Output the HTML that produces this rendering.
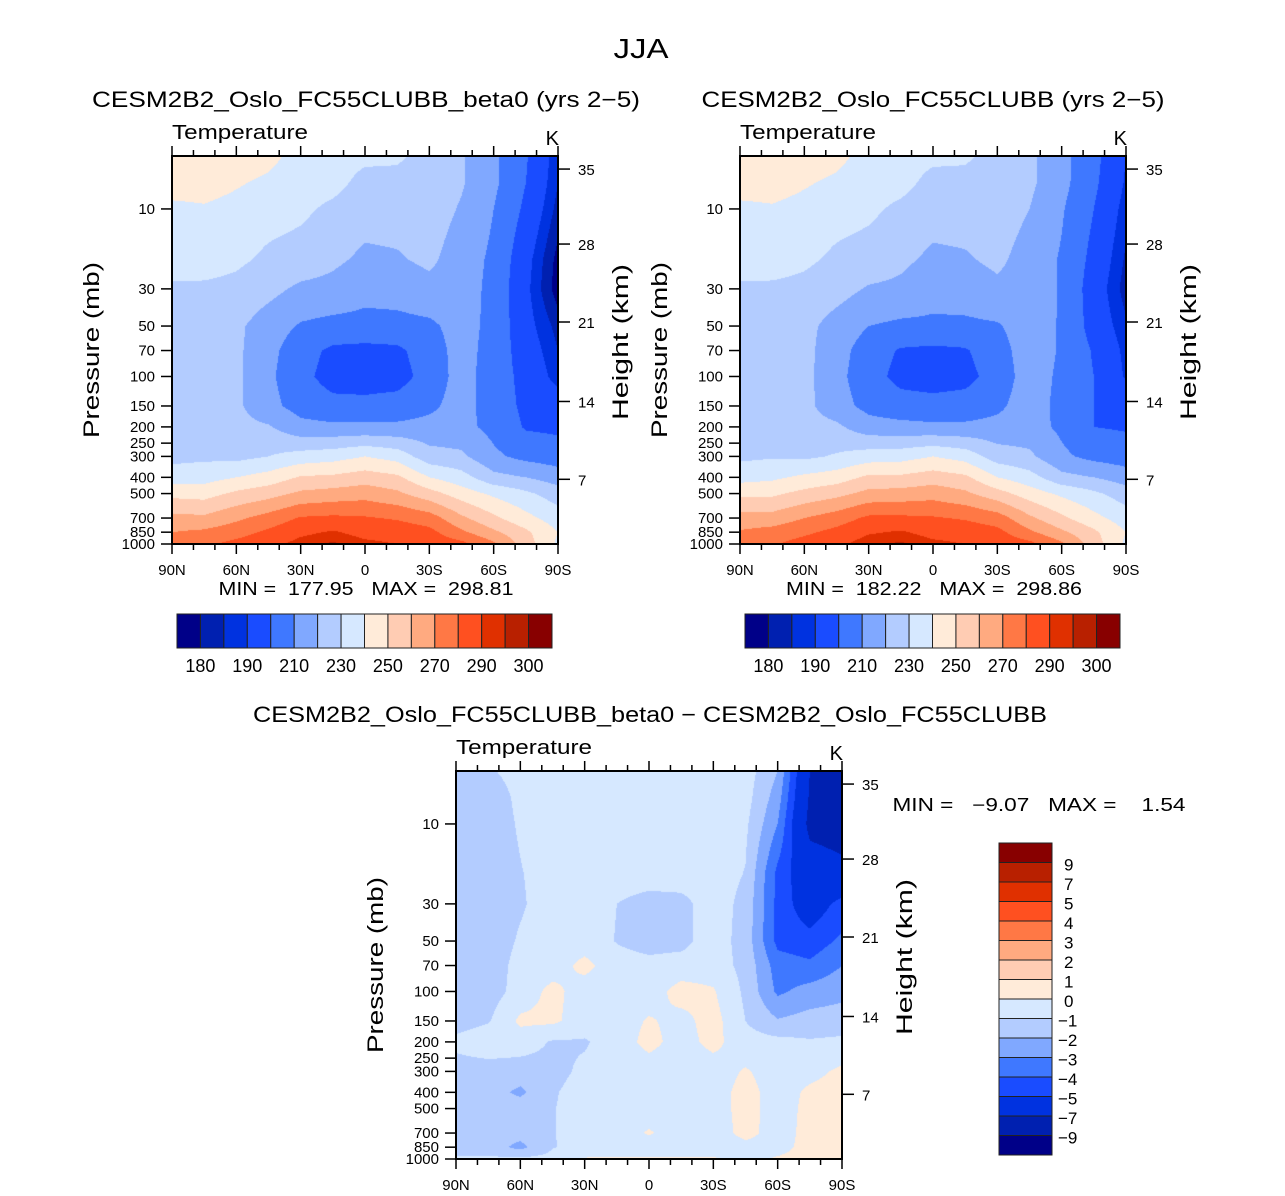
<!DOCTYPE html>
<html><head><meta charset="utf-8">
<style>
html,body{margin:0;padding:0;background:#fff;}
#wrap{position:relative;width:1285px;height:1196px;overflow:hidden;font-family:"Liberation Sans",sans-serif;}
canvas{position:absolute;}
svg{position:absolute;left:0;top:0;}
text{font-family:"Liberation Sans",sans-serif;fill:#000;white-space:pre;}
</style></head>
<body>
<div id="wrap">
<canvas id="c1" width="386" height="388" style="left:172px;top:156px"></canvas>
<canvas id="c2" width="386" height="388" style="left:740px;top:156px"></canvas>
<canvas id="c3" width="386" height="388" style="left:456px;top:771px"></canvas>
<svg id="ov" width="1285" height="1196"></svg>
</div>
<script>
// ---- data ----
const lats = ["90N","75N","60N","45N","30N","15N","0","15S","30S","45S","60S","75S","90S"];
const pressures = [4.83,7,10,20,30,50,70,100,150,200,300,400,500,700,850,1000];
const tempBeta0 = [
 [248,248,246,243,236,234,232,231,228,221,212,201,186],
 [244,244,241,238,234,233,227,228,226,221,212,200,185],
 [238,239,237,234,232,228,224,224,225,219,210,198,183],
 [233,235,232,228,226,222,218,219,222,215,208,193,178],
 [229,228,227,223,218,217,213,214,217,215,207,192,177],
 [226,225,222,215,209,207,207,207,208,214,207,193,183],
 [226,225,222,213,204,198,197,198,205,214,206,195,185],
 [226,225,222,212,203,196,195,196,204,214,205,197,187],
 [226,225,222,213,206,203,203,204,208,214,205,198,195],
 [226,225,223,221,213,212,212,212,213,213,207,199,198],
 [227,228,227,230,234,236,240,236,224,222,212,207,205],
 [235,236,240,244,251,252,255,252,240,234,223,220,215],
 [247,246,252,256,262,264,266,262,254,245,238,232,225],
 [263,262,268,274,281,282,281,279,275,262,252,243,235],
 [270,272,276,282,288,291,287,286,283,272,262,252,240],
 [275,278,283,287,293,296,292,290,287,283,272,255,238]
];
const tempControl = [
 [248,248,246,243,236,234,232,231,228,222,213,203,190],
 [244,244,241,238,234,233,227,228,226,222,213,202,189],
 [238,239,237,234,232,228,224,224,225,220,211,200,187],
 [233,235,232,228,226,222,218,219,222,216,209,197,184],
 [229,228,227,224,219,218,214,215,218,216,209,195,182.5],
 [226,226,223,216,210,208,208,208,209,215,209,196,186],
 [227,226,223,214,205,199,198,199,206,215,209,199,188],
 [227,226,223,213,204,197,196,197,204,215,208,200,189],
 [227,226,223,214,207,204,203,204,208,215,207,200,196.5],
 [227,226,224,222,214,213,212,212,213,214,208,200,199],
 [228,229,228,231,235,236,240,236,225,222,212,207,205],
 [236,238,242,245,252,252,255,252,240,234,223,220,215],
 [248,248,253,257,263,264,266,262,254,245,238,232,225],
 [264,264,270,275,282,282,281,279,275,262,252,243,235],
 [271,274,278,283,289,291,287,286,283,272,262,252,240],
 [276,279,284,288,294,296,292,290,287,283,272,255,238]
];
const tempDiff = [
 [-1.5,-1.1,-0.7,-0.5,-0.5,-0.5,-0.5,-0.5,-0.5,-0.5,-2.0,-7.0,-8.0],
 [-1.5,-1.5,-0.8,-0.5,-0.5,-0.5,-0.5,-0.5,-0.5,-0.6,-2.5,-7.2,-8.2],
 [-1.5,-1.5,-0.9,-0.5,-0.5,-0.5,-0.5,-0.5,-0.5,-0.8,-3.0,-7.5,-7.8],
 [-1.5,-1.5,-1.05,-0.6,-0.5,-0.5,-0.5,-0.5,-0.5,-1.05,-4.3,-6.0,-6.5],
 [-1.5,-1.5,-1.1,-0.6,-0.5,-1.0,-1.4,-1.3,-0.5,-1.3,-4.3,-5.8,-4.6],
 [-1.5,-1.5,-0.9,-0.6,-0.5,-1.05,-1.4,-1.3,-0.5,-1.4,-4.3,-4.6,-3.8],
 [-1.5,-1.5,-0.7,-0.5,0.3,-0.6,-0.7,-0.6,-0.5,-1.3,-3.5,-3.8,-3.0],
 [-1.5,-1.5,-0.6,0.3,-0.5,-0.5,-0.5,0.4,0.1,-1.2,-3.2,-2.6,-2.3],
 [-1.5,-1.1,0.2,0.2,-0.5,-0.5,0.1,-0.3,0.4,-1.0,-1.9,-1.6,-1.5],
 [-0.7,-0.3,-0.5,-1.1,-1.1,-0.5,0.3,-0.4,0.3,-0.6,-0.7,-0.9,-0.8],
 [-1.5,-1.5,-1.5,-1.3,-0.8,-0.5,-0.5,-0.5,-0.5,0.1,-0.5,-0.3,0.2],
 [-1.5,-1.6,-2.2,-1.1,-0.6,-0.5,-0.5,-0.5,-0.5,0.4,-0.5,0.2,0.4],
 [-1.5,-1.6,-1.5,-1.05,-0.6,-0.5,-0.5,-0.5,-0.5,0.4,-0.5,0.3,0.4],
 [-1.5,-1.5,-1.6,-1.05,-0.6,-0.5,0.1,-0.5,-0.5,0.3,-0.4,0.3,0.4],
 [-1.5,-1.5,-2.3,-1.05,-0.7,-0.5,-0.5,-0.5,-0.5,-0.3,-0.3,0.3,0.3],
 [-0.8,-0.8,-0.8,-0.7,0.1,0.1,0.1,0.1,0.1,-0.3,0.1,0.3,0.3]
];
const tempLevels = [180,185,190,200,210,220,230,240,250,260,270,280,290,295,300];
const tempTickLabels = ["180","190","210","230","250","270","290","300"];
const diffLevels = [-9,-7,-5,-4,-3,-2,-1,0,1,2,3,4,5,7,9];
const diffTickLabels = ["−9","−7","−5","−4","−3","−2","−1","0","1","2","3","4","5","7","9"];
const pressureTicks = [10,30,50,70,100,150,200,250,300,400,500,700,850,1000];
const heightTicks = [7,14,21,28,35];
const heightPressures = [411,141,47.3,16.2,5.78];
const latTickLabels = ["90N","60N","30N","0","30S","60S","90S"];
const colors = ["#000088","#0020B0","#0032E0","#1A4CFF","#3F78FF","#80A8FF","#B3CCFF","#D6E8FF","#FFEBD9","#FFCCB3","#FFAA80","#FF7845","#FF5020","#E03000","#B82000","#880000"];

// ---- scales ----
const W=386,H=388,PTOP=4.83;
function yOfP(p){ return H - (3-Math.log10(p))/(3-Math.log10(PTOP))*H; }

function hexRGB(h){return [parseInt(h.substr(1,2),16),parseInt(h.substr(3,2),16),parseInt(h.substr(5,2),16)];}
const rgb = colors.map(hexRGB);
function band(v,levels){ let k=0; while(k<levels.length && v>=levels[k]) k++; return k; }

function drawField(id,grid,levels){
  const cv=document.getElementById(id), ctx=cv.getContext('2d');
  const img=ctx.createImageData(W,H);
  const rowY=pressures.map(yOfP);
  const nc=lats.length;
  for(let py=0;py<H;py++){
    const y=py+0.5;
    let r=0; while(r<rowY.length-2 && y>rowY[r+1]) r++;
    let ty=(y-rowY[r])/(rowY[r+1]-rowY[r]); ty=Math.max(0,Math.min(1,ty));
    for(let px=0;px<W;px++){
      const fx=(px+0.5)/W*(nc-1);
      let c=Math.min(nc-2,Math.floor(fx)); const tx=fx-c;
      const v=(grid[r][c]*(1-tx)+grid[r][c+1]*tx)*(1-ty)+(grid[r+1][c]*(1-tx)+grid[r+1][c+1]*tx)*ty;
      const col=rgb[band(v,levels)];
      const o=(py*W+px)*4;
      img.data[o]=col[0];img.data[o+1]=col[1];img.data[o+2]=col[2];img.data[o+3]=255;
    }
  }
  ctx.putImageData(img,0,0);
}
drawField('c1',tempBeta0,tempLevels);
drawField('c2',tempControl,tempLevels);
drawField('c3',tempDiff,diffLevels);

// ---- overlay ----
const NS="http://www.w3.org/2000/svg";
const svg=document.getElementById('ov');
function mk(tag,attrs,parent){const e=document.createElementNS(NS,tag);for(const k in attrs)e.setAttribute(k,attrs[k]);(parent||svg).appendChild(e);return e;}
function txt(s,x,y,size,anchor,parent,len){const a={x:x,y:y,'font-size':size,'text-anchor':anchor||'start'};
  if(len){a.textLength=len;a.lengthAdjust='spacingAndGlyphs';}
  const t=mk('text',a,parent);t.textContent=s;return t;}

const title=txt("JJA",641,58,28,'middle',null,55);



function panel(ox,oy,name,ttl,tx,ty,tlen){
  const g=mk('g',{});
  
  
  if(ttl){const t=txt(ttl,tx,ty,22,'middle',g,tlen);
    
    }
  const vt=txt("Temperature",ox,oy-17,20,'start',g,136);
  
  
  const u=txt("K",ox+W+1,oy-11,20,'end',g);
  
  
  const fr=mk('rect',{x:ox,y:oy,width:W,height:H,fill:'none',stroke:'#000','stroke-width':2},g);
  
  
  for(let d=0;d<=180;d+=10){
    const x=ox+d/180*W, L=(d%30===0)?10:6;
    mk('line',{x1:x,y1:oy,x2:x,y2:oy-L,stroke:'#000','stroke-width':1.5},g);
    mk('line',{x1:x,y1:oy+H,x2:x,y2:oy+H+L,stroke:'#000','stroke-width':1.5},g);
  }
  latTickLabels.forEach((s,i)=>{const t=txt(s,ox+i/6*W,oy+H+31,15,'middle',g);
    
    });
  pressureTicks.forEach(p=>{const y=oy+yOfP(p);
    mk('line',{x1:ox,y1:y,x2:ox-11,y2:y,stroke:'#000','stroke-width':1.5},g);
    const t=txt(String(p),ox-17,y+5,15,'end',g);
    
    });
  heightTicks.forEach((h,i)=>{const y=oy+yOfP(heightPressures[i]);
    mk('line',{x1:ox+W,y1:y,x2:ox+W+12,y2:y,stroke:'#000','stroke-width':1.5},g);
    const t=txt(String(h),ox+W+20,y+6,15,'start',g);
    
    });
  const yl=txt("Pressure (mb)",0,0,22,'middle',g,176);
  yl.setAttribute('transform',`translate(${ox-73},${oy+194}) rotate(-90)`);
  
  
  const hl=txt("Height (km)",0,0,22,'middle',g,156);
  hl.setAttribute('transform',`translate(${ox+W+70},${oy+186}) rotate(-90)`);
  
  
  return g;
}
panel(172,156,'panel-beta0',"CESM2B2_Oslo_FC55CLUBB_beta0 (yrs 2−5)",366,107,548);
panel(740,156,'panel-control',"CESM2B2_Oslo_FC55CLUBB (yrs 2−5)",933,107,463);
panel(456,771,'panel-difference',"CESM2B2_Oslo_FC55CLUBB_beta0 − CESM2B2_Oslo_FC55CLUBB",650,722,794);

const m1=txt("MIN =  177.95   MAX =  298.81",366,595,18,'middle',null,295);


const m2=txt("MIN =  182.22   MAX =  298.86",934,595,18,'middle',null,296);


const m3=txt("MIN =   −9.07   MAX =    1.54",1039,811,18,'middle',null,293);



function hbar(x0,name){
  const g=mk('g',{});
  
  
  const bw=375/colors.length;
  colors.forEach((c,i)=>{const r=mk('rect',{x:x0+i*bw,y:614,width:bw,height:34,fill:c,stroke:'#222','stroke-width':1},g);
    
    });
  tempTickLabels.forEach((s,j)=>{const t=txt(s,x0+(2*j+1)*bw,672,18,'middle',g);
    
    });
}
hbar(177,'colorbar-beta0');
hbar(745,'colorbar-control');

(function(){
  const g=mk('g',{});
  
  
  const y0=843,bh=312/colors.length;
  colors.forEach((c,i)=>{const r=mk('rect',{x:999,y:y0+(colors.length-1-i)*bh,width:53,height:bh,fill:c,stroke:'#222','stroke-width':1},g);
    
    });
  diffTickLabels.forEach((s,i)=>{const y=y0+(colors.length-1-i)*bh+8;
    const t=txt(s,s.charAt(0)==='−'?1058:1064,y,17,'start',g);
    
    });
})();
</script>
</body></html>
